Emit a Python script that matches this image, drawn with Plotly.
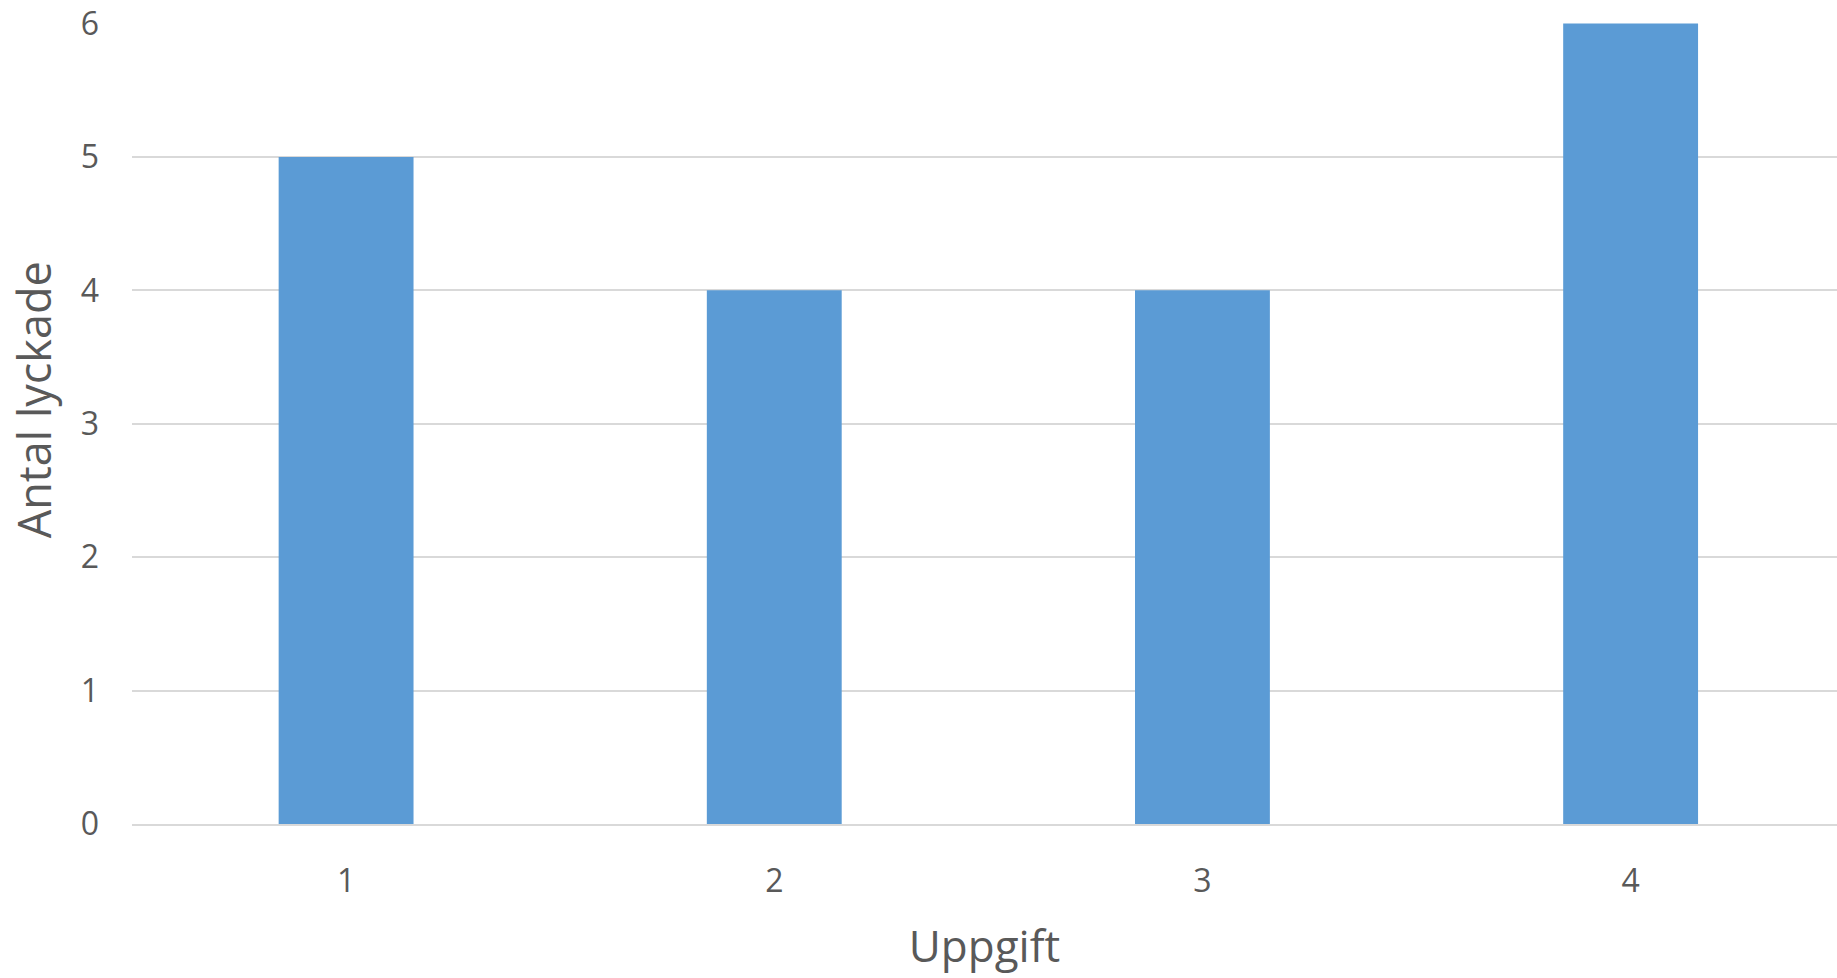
import plotly.graph_objects as go

# Data
uppgift = [1, 2, 3, 4]
uppgift_labels = ["1", "2", "3", "4"]
antal_lyckade = [5, 4, 4, 6]
y_ticks = [0, 1, 2, 3, 4, 5, 6]

text_color = "#595959"
grid_color = "#D9D9D9"
bar_color = "#5B9BD5"
font_family = "Open Sans, Lato, sans-serif"

fig = go.Figure(
    go.Bar(
        x=uppgift,
        y=antal_lyckade,
        width=0.315,
        marker=dict(color=bar_color, line=dict(width=0)),
        hoverinfo="x+y",
    )
)

fig.update_layout(
    width=1837,
    height=978,
    margin=dict(l=132, r=0, t=23, b=154),
    paper_bgcolor="white",
    plot_bgcolor="white",
    showlegend=False,
    font=dict(family=font_family, color=text_color),
)

fig.update_xaxes(
    range=[0.5, 4.482],
    tickvals=uppgift,
    ticktext=uppgift_labels,
    tickfont=dict(size=32, color=text_color),
    ticklabelstandoff=28,
    showgrid=False,
    zeroline=False,
    showline=True,
    linecolor=grid_color,
    linewidth=2,
    title=dict(text="Uppgift", font=dict(size=44, color=text_color), standoff=31),
)

fig.update_yaxes(
    range=[0, 6.004],
    tickvals=y_ticks,
    ticktext=[str(v) for v in y_ticks],
    tickfont=dict(size=32, color=text_color),
    ticklabelstandoff=32,
    showgrid=True,
    gridcolor=grid_color,
    gridwidth=2,
    zeroline=False,
    showline=False,
)

# Vertical axis title, set slightly above the plot's vertical centre
fig.add_annotation(
    text="Antal lyckade",
    textangle=-90,
    xref="paper",
    yref="paper",
    x=0,
    y=0.529,
    xanchor="center",
    yanchor="middle",
    xshift=-99,
    showarrow=False,
    font=dict(size=45, color=text_color, family=font_family),
)

fig.write_html("out.html")
